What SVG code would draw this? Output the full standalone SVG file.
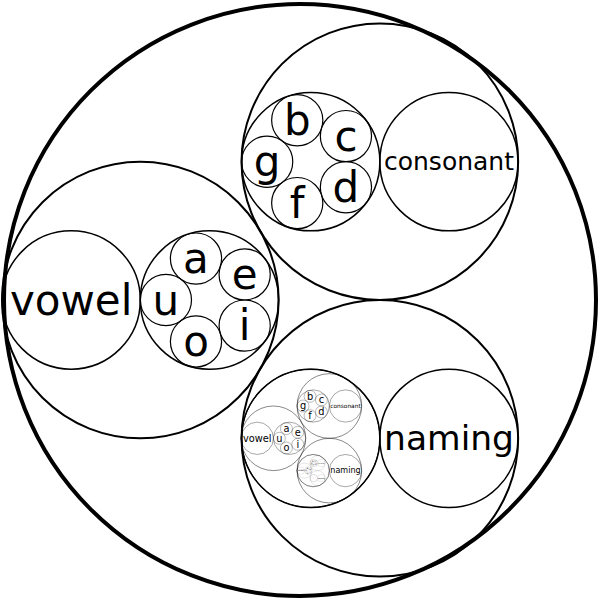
<svg xmlns="http://www.w3.org/2000/svg" xmlns:xlink="http://www.w3.org/1999/xlink" width="600" height="600" viewBox="0 0 600 600">
<style>
circle{fill:none;stroke:#000}
.d0{stroke-width:4}
.d1{stroke-width:2}
.d2{stroke-width:1.5}
.d3{stroke-width:1.2}
text{font-family:"DejaVu Sans","Liberation Sans",sans-serif;text-anchor:middle;fill:#000}
.l{font-size:42px}
</style>
<rect width="600" height="600" fill="#fff"/>
<g id="connectors"/>
<g id="tree">
  <g id="root"><circle class="d0" cx="300" cy="300" r="296"/></g>
  <g id="vowel-cluster">
    <circle class="d1" cx="140.3" cy="300" r="138.3"/>
    <g id="vowel"><circle class="d2" cx="71.15" cy="300" r="69.15"/><text class="l" x="71.15" y="314.7">vowel</text></g>
    <g id="vowels">
      <circle class="d2" cx="209.45" cy="300" r="69.15"/>
      <g id="u"><circle class="d3" cx="165.9" cy="300" r="25.6"/><text class="l" x="165.9" y="314.7">u</text></g>
      <g id="a"><circle class="d3" cx="195.99" cy="258.58" r="25.6"/><text class="l" x="195.99" y="273.28">a</text></g>
      <g id="e"><circle class="d3" cx="244.68" cy="274.4" r="25.6"/><text class="l" x="244.68" y="289.1">e</text></g>
      <g id="i"><circle class="d3" cx="244.68" cy="325.6" r="25.6"/><text class="l" x="244.68" y="340.3">i</text></g>
      <g id="o"><circle class="d3" cx="195.99" cy="341.42" r="25.6"/><text class="l" x="195.99" y="356.12">o</text></g>
    </g>
  </g>
  <g id="consonant-cluster">
    <circle class="d1" cx="379.85" cy="161.7" r="138.3"/>
    <g id="consonants">
      <circle class="d2" cx="310.7" cy="161.7" r="69.15"/>
      <g id="g"><circle class="d3" cx="267.15" cy="161.7" r="25.6"/><text class="l" x="267.15" y="176.4">g</text></g>
      <g id="b"><circle class="d3" cx="297.24" cy="120.28" r="25.6"/><text class="l" x="297.24" y="134.98">b</text></g>
      <g id="c"><circle class="d3" cx="345.93" cy="136.1" r="25.6"/><text class="l" x="345.93" y="150.8">c</text></g>
      <g id="d"><circle class="d3" cx="345.93" cy="187.3" r="25.6"/><text class="l" x="345.93" y="202">d</text></g>
      <g id="f"><circle class="d3" cx="297.24" cy="203.12" r="25.6"/><text class="l" x="297.24" y="217.82">f</text></g>
    </g>
    <g id="consonant"><circle class="d2" cx="449" cy="161.7" r="69.15"/><text x="449" y="170.45" font-size="25">consonant</text></g>
  </g>
  <g id="naming-cluster">
    <circle class="d1" cx="379.85" cy="438.3" r="138.3"/>
    <g id="naming-slot"><circle class="d2" cx="310.7" cy="438.3" r="69.15"/></g>
    <g id="naming"><circle class="d2" cx="449" cy="438.3" r="69.15"/><text x="449" y="450.4" font-size="34.5">naming</text></g>
  </g>
</g>
<g id="recursion">
  <use xlink:href="#tree" href="#tree" transform="matrix(0.233615,0,0,0.233615,240.62,368.22)"/>
  <use xlink:href="#tree" href="#tree" transform="matrix(0.054576,0,0,0.054576,296.84,454.24)"/>
  <use xlink:href="#tree" href="#tree" transform="matrix(0.01275,0,0,0.01275,309.97,474.33)"/>
  <use xlink:href="#tree" href="#tree" transform="matrix(0.0029786,0,0,0.0029786,313.03,479.03)"/>
</g>
</svg>
